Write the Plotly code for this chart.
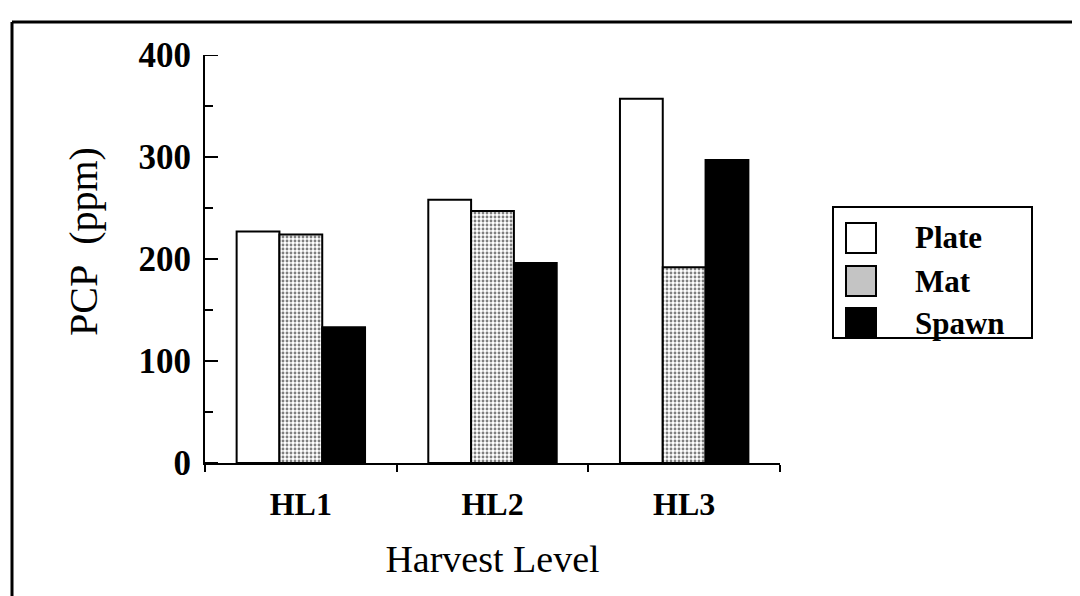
import plotly.graph_objects as go

categories = ["HL1", "HL2", "HL3"]
plate = [227, 258, 357]
mat = [224, 247, 192]
spawn = [133, 196, 297]
series_names = ["Plate", "Mat", "Spawn"]
y_major = [0, 100, 200, 300, 400]

OFF = 8  # page body margin
W, H = 1080 - OFF, 596 - OFF
# plot area in screen pixels
SX0, SX1, SY0, SY1 = 205, 780, 55, 463
L, T = SX0 - OFF, SY0 - OFF
R, B = W - (SX1 - OFF), H - (SY1 - OFF)
pw, ph = SX1 - SX0, SY1 - SY0

def px_x(x):
    return (x - SX0) / pw

def px_y(y):
    return (SY1 - y) / ph

FONT = "Liberation Serif"

fig = go.Figure()
fig.add_trace(go.Bar(x=categories, y=plate, name="Plate",
                     marker=dict(color="white", line=dict(color="black", width=2))))
fig.add_trace(go.Bar(x=categories, y=mat, name="Mat",
                     marker=dict(color="white", line=dict(color="black", width=2),
                                 pattern=dict(shape=".", size=4, solidity=0.4,
                                              fgcolor="black", bgcolor="white", fillmode="overlay"))))
fig.add_trace(go.Bar(x=categories, y=spawn, name="Spawn",
                     marker=dict(color="black", line=dict(color="black", width=2))))

fig.update_layout(
    width=W, height=H,
    margin=dict(l=L, r=R, t=T, b=B, autoexpand=False),
    paper_bgcolor="white", plot_bgcolor="white",
    barmode="group", bargap=0.33, bargroupgap=0,
    showlegend=False,
    font=dict(family=FONT, color="black"),
)

fig.update_xaxes(
    type="category", range=[-0.5, 2.5],
    showline=True, linecolor="black", linewidth=2,
    ticks="outside", tickson="boundaries", ticklen=7, tickwidth=2, tickcolor="black",
    showgrid=False, zeroline=False,
    tickfont=dict(family=FONT, size=32, weight="bold"),
    ticklabelstandoff=12,
    title=dict(text="Harvest Level", font=dict(family=FONT, size=38), standoff=24),
)
fig.update_layout(
    yaxis=dict(
        range=[0, 400], tickvals=y_major,
        showline=True, linecolor="black", linewidth=2,
        ticks="", showgrid=False, zeroline=False,
        tickfont=dict(family=FONT, size=35, weight="bold"),
        ticklabelstandoff=5,
    ),
    yaxis2=dict(
        overlaying="y", side="left", anchor="x",
        range=[0, 400], tickmode="linear", tick0=50, dtick=100,
        ticks="inside", ticklen=8, tickwidth=2, tickcolor="black",
        showticklabels=False, showgrid=False, zeroline=False, showline=False,
    ),
)
# invisible trace to activate the minor-tick axis
fig.add_trace(go.Scatter(x=[categories[0]], y=[0], yaxis="y2", mode="markers",
                         marker=dict(opacity=0), hoverinfo="skip", showlegend=False))

fig.add_annotation(xref="paper", yref="paper", x=px_x(83), y=px_y(242),
                   xanchor="center", yanchor="middle", showarrow=False, textangle=-90,
                   text="PCP\u00a0\u00a0(ppm)", font=dict(family=FONT, size=40))

shapes = []
# major y ticks (inside), placed on the y data scale
for v in y_major:
    shapes.append(dict(type="line", xref="paper", yref="y",
                       x0=0, x1=13 / pw, y0=v, y1=v,
                       line=dict(color="black", width=2)))
# outer frame (top and left edges)
shapes.append(dict(type="line", xref="paper", yref="paper",
                   x0=px_x(12), x1=px_x(1080), y0=px_y(22), y1=px_y(22),
                   line=dict(color="black", width=3)))
shapes.append(dict(type="line", xref="paper", yref="paper",
                   x0=px_x(12), x1=px_x(12), y0=px_y(22), y1=px_y(600),
                   line=dict(color="black", width=3)))
# legend box
shapes.append(dict(type="rect", xref="paper", yref="paper",
                   x0=px_x(833), x1=px_x(1032), y0=px_y(207), y1=px_y(338),
                   line=dict(color="black", width=2), fillcolor="white"))
legend_fills = ["white", "#c4c4c4", "black"]
row_y = [238, 281, 323]
for name, fc, ry in zip(series_names, legend_fills, row_y):
    shapes.append(dict(type="rect", xref="paper", yref="paper",
                       x0=px_x(846), x1=px_x(876), y0=px_y(ry - 15), y1=px_y(ry + 15),
                       line=dict(color="black", width=2), fillcolor=fc))
    fig.add_annotation(xref="paper", yref="paper", x=px_x(913), y=px_y(ry),
                       xanchor="left", yanchor="middle", showarrow=False,
                       text=name, font=dict(family=FONT, size=31, weight="bold"))
fig.update_layout(shapes=shapes)

fig.write_html("out.html")
